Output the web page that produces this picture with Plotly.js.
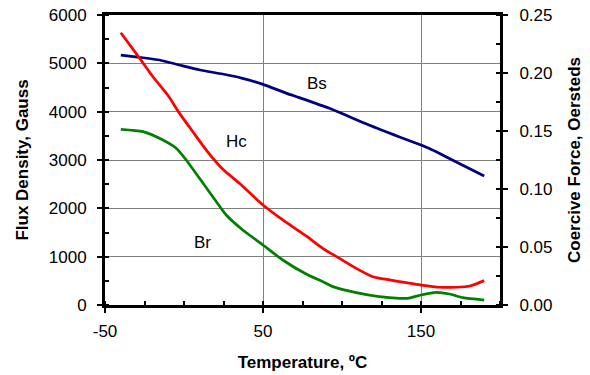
<!DOCTYPE html>
<html>
<head>
<meta charset="utf-8">
<script src="https://cdn.plot.ly/plotly-3.0.1.min.js"></script>
<style>html,body{margin:0;padding:0;background:#fff;}#chart{width:590px;height:375px;}</style>
</head>
<body>
<div id="chart"></div>
<script>
// Temperature (°C) and values
const bsTemp = [-40, -28, -15.5, -3, 10, 24.5, 37, 50, 65, 73, 92, 117, 136, 150, 155, 172, 190];
const bsVals = [5172, 5124, 5069, 4966, 4862, 4779, 4690, 4565, 4379, 4290, 4069, 3724, 3482, 3310, 3242, 2965, 2669];

const hcTemp = [-40, -28, -19.7, -10.3, -2.8, 5.6, 14.1, 24.6, 35.1, 50, 62.5, 77.3, 87.8, 98.4, 109, 119.5, 130, 140.6, 150, 161.7, 172.3, 181, 190];
const hcVals = [0.2347, 0.2126, 0.1968, 0.181, 0.1652, 0.1494, 0.1336, 0.117, 0.1049, 0.0862, 0.0733, 0.0595, 0.0489, 0.0402, 0.0316, 0.0244, 0.0216, 0.0192, 0.0172, 0.0153, 0.0153, 0.0164, 0.021];

const brTemp = [-40, -26, -13.4, -4.9, 1.4, 9.8, 18.2, 26.7, 37.2, 50, 62.5, 77.3, 87.8, 94.2, 109, 123.7, 136.4, 141.6, 150, 159.6, 168, 176.5, 190];
const brVals = [3635, 3586, 3414, 3242, 3000, 2621, 2241, 1862, 1552, 1241, 931, 640, 483, 380, 255, 172, 138, 138, 207, 262, 228, 152, 103];

const xTickVals = [-50, 50, 150];
const xTickText = ['-50', '50', '150'];

const curveLabels = ['Bs', 'Hc', 'Br'];
const labelX = [84, 33, 12];
const labelY = [4590, 3390, 1300];

const FONT = 'Liberation Sans, Arial, sans-serif';
const FS = 17;

const traces = [
  {x: bsTemp, y: bsVals, mode: 'lines', line: {color: '#000080', width: 2.75, shape: 'spline', smoothing: 0.6}, yaxis: 'y', hoverinfo: 'skip'},
  {x: hcTemp, y: hcVals, mode: 'lines', line: {color: '#ff0000', width: 2.75, shape: 'spline', smoothing: 0.6}, yaxis: 'y2', hoverinfo: 'skip'},
  {x: brTemp, y: brVals, mode: 'lines', line: {color: '#008000', width: 2.75, shape: 'spline', smoothing: 0.6}, yaxis: 'y', hoverinfo: 'skip'}
];

const layout = {
  width: 590, height: 375,
  margin: {l: 105, r: 90, t: 15, b: 70},
  paper_bgcolor: '#fff', plot_bgcolor: '#fff',
  showlegend: false,
  font: {family: FONT, size: FS, color: '#000'},
  xaxis: {
    range: [-50, 200], tickmode: 'array', tickvals: xTickVals, ticktext: xTickText,
    showgrid: true, gridcolor: '#808080', gridwidth: 1,
    showline: true, linecolor: '#000', linewidth: 3, mirror: true,
    ticks: 'outside', ticklen: 5, tickwidth: 2, tickcolor: '#000',
    minor: {tickmode: 'linear', dtick: 25, tick0: -50, ticks: 'inside', ticklen: 4, tickwidth: 2, tickcolor: '#000', showgrid: false},
    zeroline: false,
    ticklabelstandoff: 4,
    tickfont: {size: FS},
    title: {text: '<b>Temperature, ºC</b>', font: {size: FS}, standoff: 16}
  },
  yaxis: {
    range: [0, 6000], dtick: 1000, tickmode: 'linear',
    showgrid: true, gridcolor: '#808080', gridwidth: 1,
    showline: true, linecolor: '#000', linewidth: 3,
    ticks: 'outside', ticklen: 5, tickwidth: 2, tickcolor: '#000',
    minor: {dtick: 500, ticks: 'inside', ticklen: 4, tickwidth: 2, tickcolor: '#000', showgrid: false},
    zeroline: false,
    ticklabelstandoff: 7,
    tickfont: {size: FS},
    title: {text: '<b>Flux Density, Gauss</b>', font: {size: FS}, standoff: 16}
  },
  yaxis2: {
    range: [0, 0.25], dtick: 0.05, tickmode: 'linear', tickformat: '.2f',
    overlaying: 'y', side: 'right',
    showgrid: false,
    showline: true, linecolor: '#000', linewidth: 3,
    ticks: 'outside', ticklen: 5, tickwidth: 2, tickcolor: '#000',
    minor: {dtick: 0.025, ticks: 'inside', ticklen: 4, tickwidth: 2, tickcolor: '#000', showgrid: false},
    zeroline: false,
    ticklabelstandoff: 8,
    tickfont: {size: FS},
    title: {text: '<b>Coercive Force, Oersteds</b>', font: {size: FS}, standoff: 17}
  },
  annotations: curveLabels.map((t, i) => ({
    x: labelX[i], y: labelY[i], xref: 'x', yref: 'y', text: t, showarrow: false,
    font: {size: FS, family: FONT, color: '#000'}
  }))
};

Plotly.newPlot('chart', traces, layout, {staticPlot: true, displayModeBar: false});
</script>
</body>
</html>
